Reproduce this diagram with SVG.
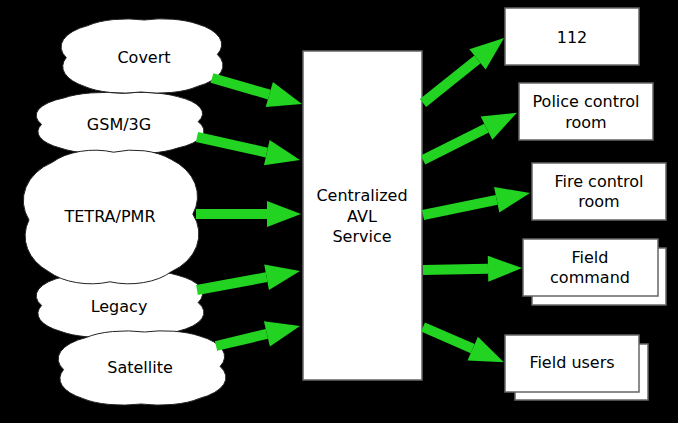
<svg xmlns="http://www.w3.org/2000/svg" width="678" height="423" viewBox="0 0 678 423">
<style>
.bg{fill:#000}
.cloud{fill:#fff;stroke:#222;stroke-width:1}
.box{fill:#fff;stroke:#666;stroke-width:1.5}
.lbl{font-family:"DejaVu Sans",sans-serif;font-size:16px;fill:#000;text-anchor:middle}
.arr{stroke:#22d322;stroke-width:10;fill:none;marker-end:url(#head)}
</style>
<defs>
<marker id="head" markerUnits="userSpaceOnUse" markerWidth="40" markerHeight="30" refX="0" refY="13" orient="auto" overflow="visible">
<path d="M0,0 L34,13 L0,26 Z" fill="#22d322"/>
</marker>
<path id="cloudShape" vector-effect="non-scaling-stroke" d="M5,52 A30 30 0 0 1 18,12 A30 22 0 0 1 52,5 A30 22 0 0 1 84,10 A30 30 0 0 1 96,48 A30 30 0 0 1 84,88 A30 22 0 0 1 50,95 A30 22 0 0 1 16,88 A30 30 0 0 1 5,52 Z"/>
</defs>
<rect class="bg" x="0" y="0" width="678" height="423"/>

<g id="gsm">
<use href="#cloudShape" class="cloud" transform="translate(33,90) scale(1.72,0.66)"/>
<text class="lbl" x="119" y="130">GSM/3G</text>
</g>
<g id="covert">
<use href="#cloudShape" class="cloud" transform="translate(58,16) scale(1.66,0.8)"/>
<text class="lbl" x="144" y="63">Covert</text>
</g>
<g id="legacy">
<use href="#cloudShape" class="cloud" transform="translate(33,268) scale(1.72,0.72)"/>
<text class="lbl" x="119" y="312">Legacy</text>
</g>
<g id="tetra">
<use href="#cloudShape" class="cloud" transform="translate(20,145) scale(1.8,1.44)"/>
<text class="lbl" x="110" y="222">TETRA/PMR</text>
</g>
<g id="satellite">
<use href="#cloudShape" class="cloud" transform="translate(55,328) scale(1.72,0.8)"/>
<text class="lbl" x="140" y="373">Satellite</text>
</g>

<g id="avl">
<rect class="box" x="303" y="51" width="119" height="329"/>
<text class="lbl" x="362" y="201">Centralized</text>
<text class="lbl" x="362" y="222">AVL</text>
<text class="lbl" x="362" y="242">Service</text>
</g>

<g id="n112">
<rect class="box" x="505" y="8" width="134" height="57"/>
<text class="lbl" x="572" y="43">112</text>
</g>
<g id="police">
<rect class="box" x="519" y="83" width="134" height="57"/>
<text class="lbl" x="586" y="107">Police control</text>
<text class="lbl" x="586" y="128">room</text>
</g>
<g id="fire">
<rect class="box" x="532" y="163" width="134" height="57"/>
<text class="lbl" x="599" y="187">Fire control</text>
<text class="lbl" x="599" y="207">room</text>
</g>
<g id="fieldcommand">
<rect class="box" x="532" y="248" width="134" height="57"/>
<rect class="box" x="523" y="239" width="135" height="57"/>
<text class="lbl" x="590" y="263">Field</text>
<text class="lbl" x="590" y="283">command</text>
</g>
<g id="fieldusers">
<rect class="box" x="515" y="344" width="133" height="56"/>
<rect class="box" x="505" y="335" width="134" height="57"/>
<text class="lbl" x="572" y="368">Field users</text>
</g>

<g id="connectors">
<line class="arr" x1="212" y1="78" x2="269.3" y2="94.6"/>
<line class="arr" x1="197" y1="137" x2="266.8" y2="152.6"/>
<line class="arr" x1="196" y1="214" x2="267" y2="214"/>
<line class="arr" x1="197" y1="290" x2="266.6" y2="277.2"/>
<line class="arr" x1="216" y1="346" x2="266.9" y2="333.9"/>
<line class="arr" x1="423" y1="103" x2="477.5" y2="59.3"/>
<line class="arr" x1="423" y1="160" x2="486.5" y2="128.1"/>
<line class="arr" x1="423" y1="215" x2="496.7" y2="199.8"/>
<line class="arr" x1="423" y1="270" x2="488" y2="268.7"/>
<line class="arr" x1="423" y1="327" x2="472.7" y2="348.7"/>
</g>
</svg>
